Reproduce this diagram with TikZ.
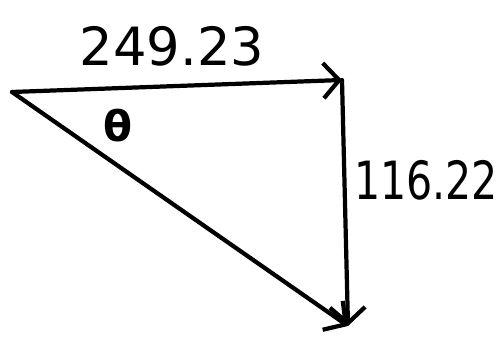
\documentclass[tikz,border=0pt]{standalone}
\usepackage{fontspec}
\setmainfont{DejaVu Sans}
\usetikzlibrary{arrows.meta}
\begin{document}
\begin{tikzpicture}[x=0.02cm,y=-0.02cm,
  vec/.style={line width=2.4pt,line cap=round,line join=round,-{Straight Barb[length=9pt,width=20pt,line width=2.4pt]}},
  lbl/.style={font=\fontsize{30}{30}\selectfont}]
\useasboundingbox (0,0) rectangle (497,341);
\coordinate (A) at (12,92);
\coordinate (B) at (342,80);
\coordinate (C) at (348,326);
\draw[vec] (A) -- (B);
\draw[vec] (B) -- (C);
\draw[vec] (A) -- (C);
\node[lbl] (l1) at (172,46) {249.23};
\node[lbl,xscale=0.78,inner sep=0pt] (l2) at (426,180) {116.22};
\node[lbl,font=\fontsize{24}{24}\bfseries\selectfont] (th) at (118,126) {θ};
\end{tikzpicture}
\end{document}
